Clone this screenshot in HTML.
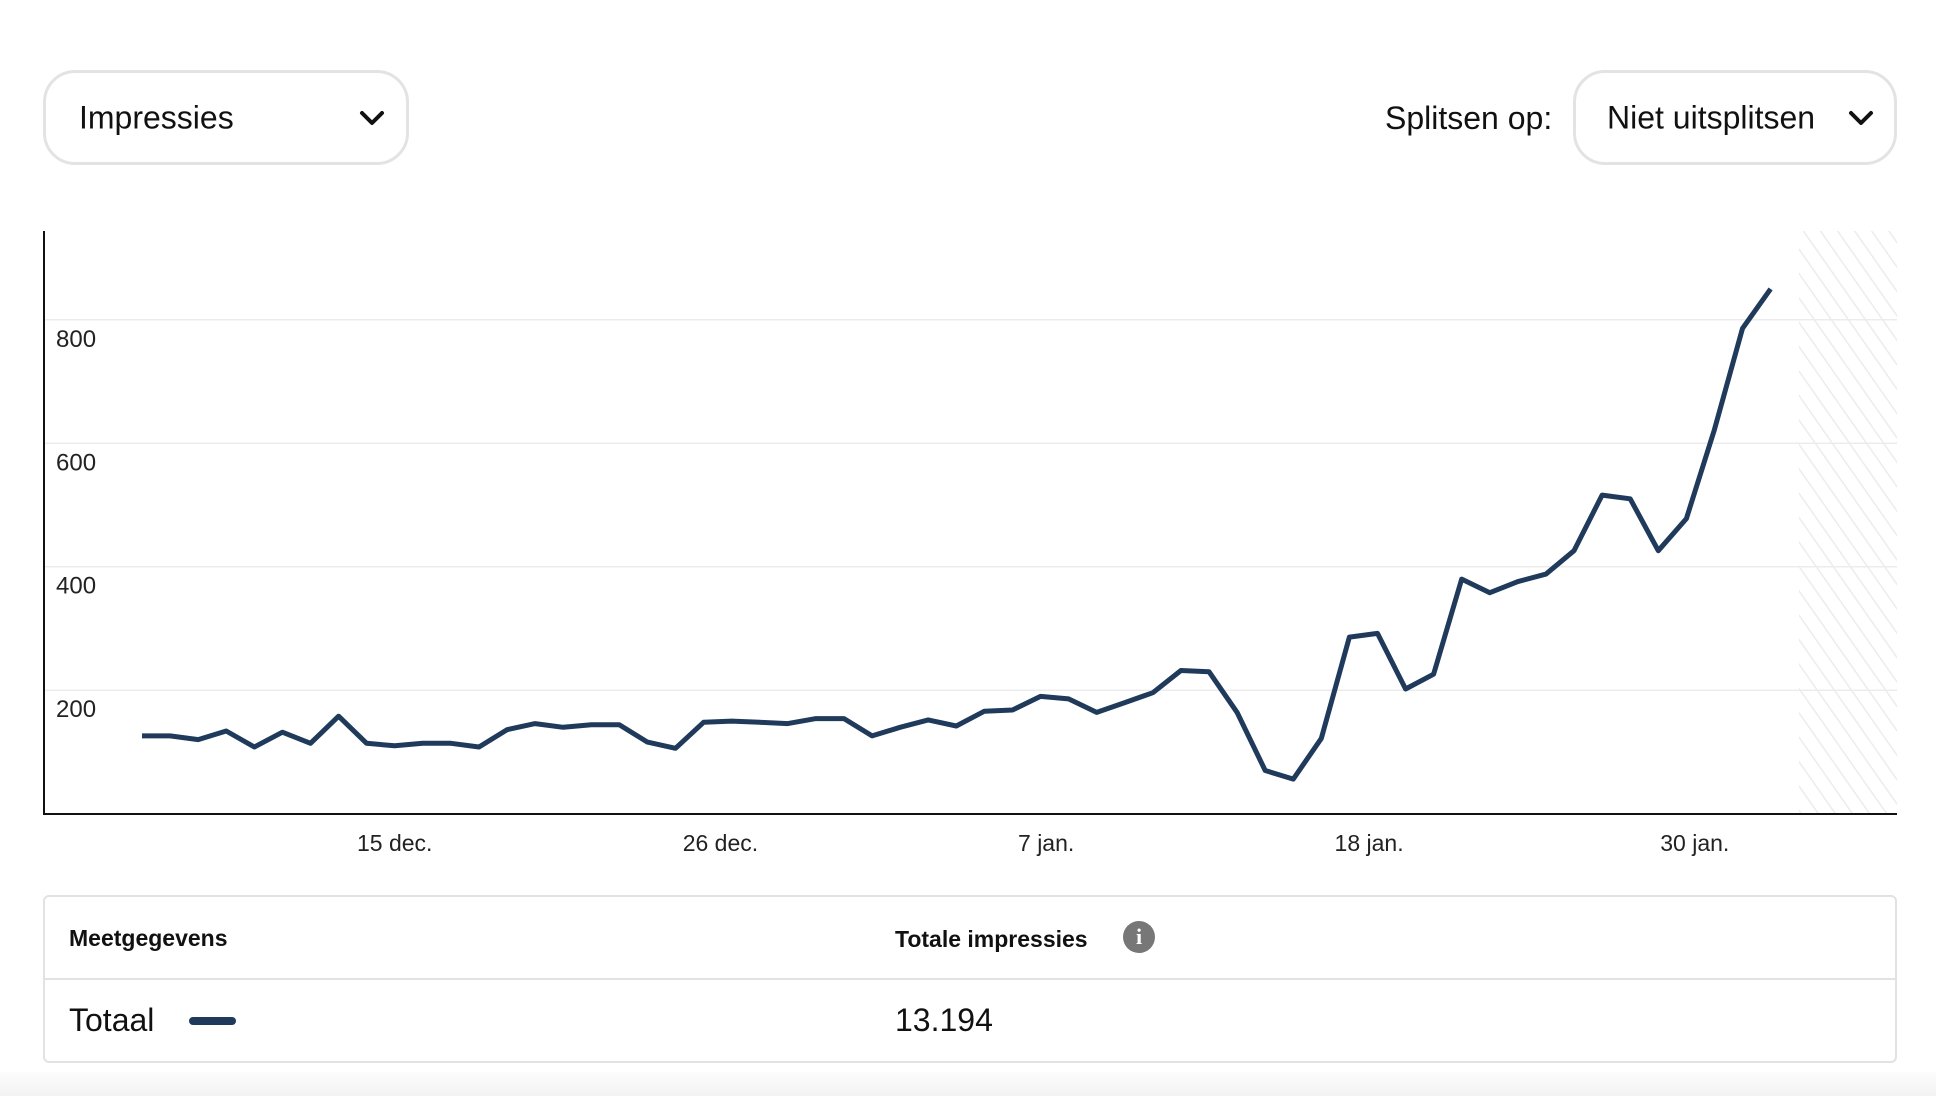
<!DOCTYPE html>
<html><head><meta charset="utf-8">
<style>
html,body{margin:0;padding:0;width:1936px;height:1096px;overflow:hidden;background:#fff;font-family:"Liberation Sans",sans-serif;color:#111;}
.dd{position:absolute;border:3px solid #e3e3e3;border-radius:32px;box-sizing:border-box;}
.dd span{position:absolute;font-size:32px;top:50%;transform:translateY(-50%);}
.chev{position:absolute;top:50%;transform:translateY(-50%);}
#bottom{position:absolute;left:0;top:1072px;width:1936px;height:24px;background:linear-gradient(#fcfcfc,#f3f3f3);}
</style></head><body>
<div id="bottom"></div>
<div class="dd" style="left:43px;top:70px;width:366px;height:95px;">
  <span style="left:33px;">Impressies</span>
  <svg class="chev" style="left:313px" width="26" height="18" viewBox="0 0 26 18"><path d="M3 4 L13 14 L23 4" fill="none" stroke="#111" stroke-width="4" stroke-linecap="round" stroke-linejoin="round"/></svg>
</div>
<div style="position:absolute;left:1385px;top:100px;font-size:32px;">Splitsen op:</div>
<div class="dd" style="left:1573px;top:70px;width:324px;height:95px;">
  <span style="left:31px;">Niet uitsplitsen</span>
  <svg class="chev" style="left:272px" width="26" height="18" viewBox="0 0 26 18"><path d="M3 4 L13 14 L23 4" fill="none" stroke="#111" stroke-width="4" stroke-linecap="round" stroke-linejoin="round"/></svg>
</div>

<svg id="chart" width="1936" height="880" style="position:absolute;left:0;top:0" xmlns="http://www.w3.org/2000/svg">
  <defs>
    <pattern id="hatch" width="14" height="14" patternUnits="userSpaceOnUse" patternTransform="rotate(-35)">
      <line x1="0" y1="0" x2="0" y2="14" stroke="#ececec" stroke-width="3"/>
    </pattern>
  </defs>
  <g id="grid"></g>
  <rect x="1799" y="231" width="98" height="583" fill="url(#hatch)"/>
  <g id="series"></g>
  <line x1="44" y1="231" x2="44" y2="815" stroke="#111" stroke-width="2"/>
  <line x1="43" y1="814" x2="1897" y2="814" stroke="#111" stroke-width="2"/>
  <g id="xlabels"></g>
</svg>

<div style="position:absolute;left:43px;top:895px;width:1854px;height:168px;border:2px solid #e2e2e2;border-radius:6px;box-sizing:border-box;">
  <div style="position:absolute;left:0;right:0;top:81px;height:2px;background:#e2e2e2;"></div>
  <div style="position:absolute;left:24px;top:28px;font-size:23px;font-weight:bold;">Meetgegevens</div>
  <div style="position:absolute;left:850px;top:29px;font-size:23px;font-weight:bold;">Totale impressies</div>
  <div style="position:absolute;left:1078px;top:024px;width:32px;height:32px;border-radius:50%;background:#777;color:#fff;font-size:22px;font-weight:bold;text-align:center;line-height:32px;font-family:'Liberation Serif',serif;">i</div>
  <div style="position:absolute;left:24px;top:105px;font-size:32px;">Totaal</div>
  <div style="position:absolute;left:144px;top:120px;width:47px;height:8px;border-radius:4px;background:#1f3a5a;"></div>
  <div style="position:absolute;left:850px;top:105px;font-size:32px;">13.194</div>
</div>

<script>
const values = [126,126,120,134,108,132,114,158,114,110,114,114,108,136,146,140,144,144,116,106,148,150,148,146,154,154,126,140,152,142,166,168,190,186,164,180,196,232,230,164,70,56,122,286,292,202,226,380,358,376,388,426,516,510,426,478,622,786,850];
const yTicks = [200,400,600,800];
const xTickLabels = ["15 dec.","26 dec.","7 jan.","18 jan.","30 jan."];
const xTickIndex = [9.0,20.6,32.2,43.7,55.3];

const NS="http://www.w3.org/2000/svg";
const x0=142, x1=1770.6, yBase=813.7, pxPerUnit=0.6174;
function xScale(i){return x0+(x1-x0)*i/(values.length-1);}
function yScale(v){return yBase-v*pxPerUnit;}

const grid=document.getElementById('grid');
yTicks.forEach(t=>{
  const l=document.createElementNS(NS,'line');
  
  
  l.setAttribute('x1',44);l.setAttribute('x2',1897);
  l.setAttribute('y1',yScale(t));l.setAttribute('y2',yScale(t));
  l.setAttribute('stroke','#ececec');l.setAttribute('stroke-width','1.5');
  grid.appendChild(l);
  const tx=document.createElementNS(NS,'text');
  
  
  tx.setAttribute('x',56);tx.setAttribute('y',yScale(t)+27);
  tx.setAttribute('font-size','24');tx.setAttribute('fill','#222');
  tx.setAttribute('font-family','Liberation Sans, sans-serif');
  tx.textContent=t;
  grid.appendChild(tx);
});

const p=document.createElementNS(NS,'polyline');


p.setAttribute('points',values.map((v,i)=>xScale(i).toFixed(1)+','+yScale(v).toFixed(1)).join(' '));
p.setAttribute('fill','none');p.setAttribute('stroke','#1f3a5a');
p.setAttribute('stroke-width','5');p.setAttribute('stroke-linejoin','round');
document.getElementById('series').appendChild(p);

const xl=document.getElementById('xlabels');
xTickLabels.forEach((lab,k)=>{
  const tx=document.createElementNS(NS,'text');
  
  
  tx.setAttribute('x',xScale(xTickIndex[k]));tx.setAttribute('y',851);
  tx.setAttribute('text-anchor','middle');
  tx.setAttribute('font-size','23');tx.setAttribute('fill','#222');
  tx.setAttribute('font-family','Liberation Sans, sans-serif');
  tx.textContent=lab;
  xl.appendChild(tx);
});
</script>
</body></html>
